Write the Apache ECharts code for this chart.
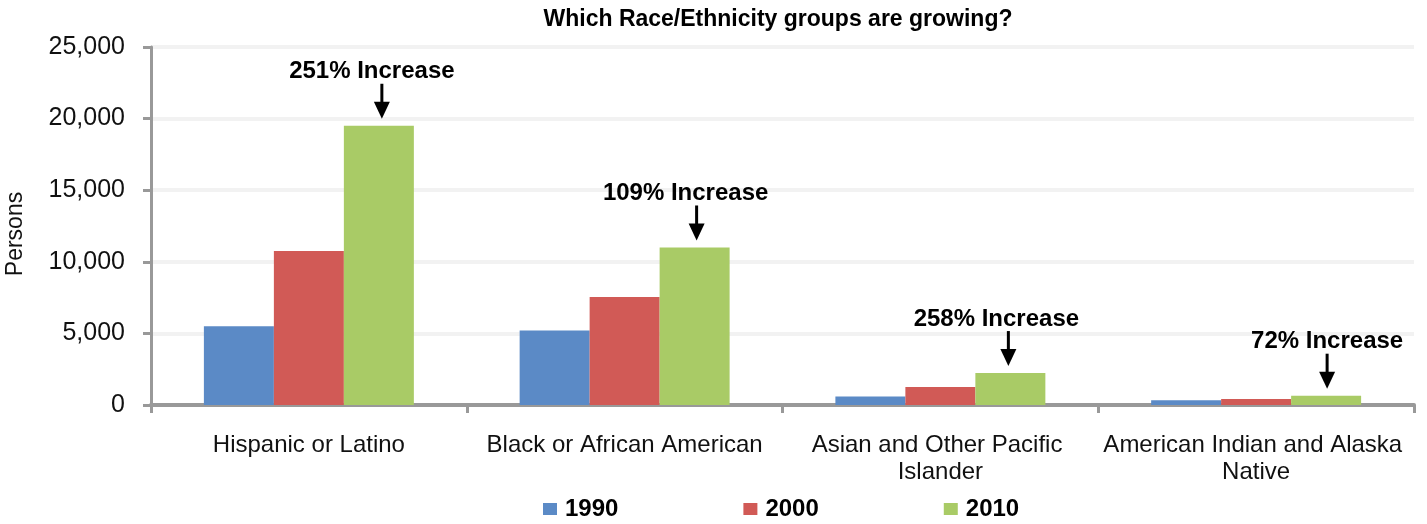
<!DOCTYPE html>
<html>
<head>
<meta charset="utf-8">
<script src="https://cdn.jsdelivr.net/npm/echarts@6/dist/echarts.min.js"></script>
<style>
html,body{margin:0;padding:0;background:#fff;}
#chart{width:1427px;height:524px;}
</style>
</head>
<body>
<div id="chart"></div>
<script>
const categories = ['Hispanic or Latino', 'Black or African American', 'Asian and Other Pacific Islander', 'American Indian and Alaska Native'];
const seriesNames = ['1990', '2000', '2010'];
const values1990 = [5500, 5200, 600, 330];
const values2000 = [10750, 7550, 1250, 420];
const values2010 = [19500, 11000, 2230, 650];
const increaseLabels = ['251% Increase', '109% Increase', '258% Increase', '72% Increase'];
const yTicks = [0, 5000, 10000, 15000, 20000, 25000];

const colors = ['#5B8AC6', '#D15A56', '#A9CB66'];
const FONT = 'Liberation Sans, Arial, sans-serif';

const chart = echarts.init(document.getElementById('chart'), null, {renderer: 'canvas'});

const option = {
  animation: false,
  backgroundColor: '#ffffff',
  color: colors,
  title: {
    text: 'Which Race/Ethnicity groups are growing?',
    left: 778,
    textAlign: 'center',
    top: 8,
    padding: 0,
    textStyle: {fontFamily: FONT, fontSize: 23, fontWeight: 'bold', color: '#000'}
  },
  legend: {
    data: seriesNames,
    left: 543,
    top: 497,
    padding: 0,
    itemWidth: 14,
    itemHeight: 12,
    itemGap: 125,
    icon: 'rect',
    textStyle: {fontFamily: FONT, fontSize: 24, fontWeight: 'bold', color: '#000', padding: [0, 0, 0, 3]}
  },
  grid: {left: 151, right: 13, top: 47, bottom: 119, containLabel: false, outerBoundsMode: 'none'},
  xAxis: {
    type: 'category',
    data: categories,
    axisLine: {lineStyle: {color: '#999999', width: 4}},
    axisTick: {show: true, length: 8, lineStyle: {color: '#999999', width: 3}},
    axisLabel: {
      interval: 0,
      margin: 27,
      fontFamily: FONT,
      fontSize: 24,
      lineHeight: 27,
      color: '#111',
      width: 312,
      overflow: 'break'
    },
    splitLine: {show: false}
  },
  yAxis: {
    type: 'value',
    min: yTicks[0],
    max: yTicks[yTicks.length - 1],
    interval: yTicks[1] - yTicks[0],
    name: 'Persons',
    nameLocation: 'middle',
    nameGap: 124,
    nameRotate: 90,
    nameTextStyle: {fontFamily: FONT, fontSize: 23, color: '#111', padding: [0, 16, 0, 0]},
    axisLine: {show: true, lineStyle: {color: '#999999', width: 3}},
    axisTick: {show: true, length: 8, lineStyle: {color: '#999999', width: 3}},
    axisLabel: {
      margin: 26,
      fontFamily: FONT,
      fontSize: 25,
      color: '#111',
      formatter: v => v.toLocaleString('en-US')
    },
    splitLine: {lineStyle: {color: '#f2f2f2', width: 4}}
  },
  series: [
    {name: seriesNames[0], type: 'bar', data: values1990, barGap: 0, barCategoryGap: '33.5%'},
    {name: seriesNames[1], type: 'bar', data: values2000, barGap: 0, barCategoryGap: '33.5%'},
    {name: seriesNames[2], type: 'bar', data: values2010, barGap: 0, barCategoryGap: '33.5%'}
  ]
};

chart.setOption(option);

function addAnnotations() {
  const data = chart.getModel().getSeriesByIndex(2).getData();
  const arrowDx = [3, 2, -2, 1];
  const textDx = [-7, -9, -14, 1];
  const elements = [];
  increaseLabels.forEach((txt, i) => {
    const lay = data.getItemLayout(i);
    const bx = lay.x + lay.width / 2;
    const cx = bx + arrowDx[i];
    const top = Math.min(lay.y, lay.y + lay.height);
    const tipY = top - 7;
    const shaftTop = tipY - 35;
    elements.push({
      type: 'line',
      shape: {x1: cx, y1: shaftTop, x2: cx, y2: tipY - 12},
      style: {stroke: '#000', lineWidth: 3},
      silent: true
    });
    elements.push({
      type: 'polygon',
      shape: {points: [[cx - 8, tipY - 17], [cx + 8, tipY - 17], [cx, tipY]]},
      style: {fill: '#000'},
      silent: true
    });
    elements.push({
      type: 'text',
      x: bx + textDx[i],
      y: shaftTop,
      style: {
        text: txt,
        fontFamily: FONT,
        fontSize: 24,
        fontWeight: 'bold',
        fill: '#000',
        align: 'center',
        verticalAlign: 'bottom'
      },
      silent: true
    });
  });
  chart.setOption({graphic: elements});
}
addAnnotations();
</script>
</body>
</html>
